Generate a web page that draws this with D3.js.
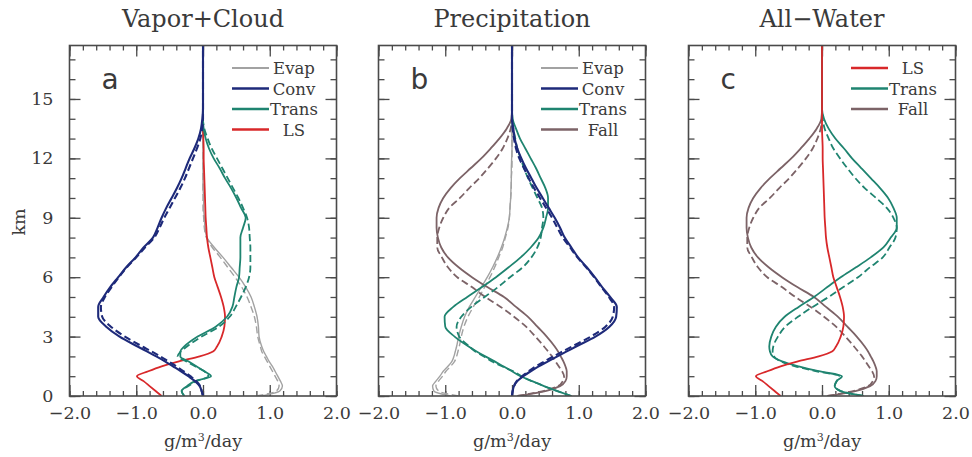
<!DOCTYPE html>
<html>
<head>
<meta charset="utf-8">
<script src="https://cdn.jsdelivr.net/npm/d3@7"></script>
<style>
  body { margin: 0; background: #fff; }
  text { fill: #3a3a3a; }
</style>
</head>
<body>
<svg id="chart" width="972" height="457"></svg>
<script>
// Height levels (km) shared by every profile
const heights = [0, 0.25, 0.5, 0.75, 1, 1.25, 1.5, 1.75, 2, 2.25, 2.5, 3, 3.5, 4, 4.5, 5, 5.5, 6, 6.5, 7, 7.5, 8, 8.5, 9, 9.5, 10, 10.5, 11, 11.5, 12, 12.5, 13, 13.5, 14, 14.5, 17.7];

// Panel titles, letters and tick labels
const panelTitles = ["Vapor+Cloud", "Precipitation", "All\u2212Water"];
const panelLetters = ["a", "b", "c"];
const xMajorTicks = [-2, -1, 0, 1, 2];
const yMajorTicks = [0, 3, 6, 9, 12, 15];

// Vapor+Cloud budget terms (g/m3/day); "D" = second (dashed) experiment
const vcEvap  = [0.88, 1.15, 1.19, 1.16, 1.12, 1.08, 1.04, 0.99, 0.95, 0.91, 0.88, 0.84, 0.83, 0.81, 0.77, 0.72, 0.64, 0.54, 0.42, 0.30, 0.17, 0.06, 0.03, 0.02, 0.01, 0.01, 0, 0, 0, 0, 0, 0, 0, 0, 0, 0];
const vcEvapD = [0.80, 1.10, 1.14, 1.12, 1.08, 1.04, 1.00, 0.96, 0.92, 0.88, 0.86, 0.82, 0.80, 0.77, 0.72, 0.66, 0.58, 0.48, 0.37, 0.26, 0.14, 0.05, 0.02, 0.01, 0, 0, 0, 0, 0, 0, 0, 0, 0, 0, 0, 0];
const vcConv  = [0.00, -0.02, -0.05, -0.12, -0.22, -0.33, -0.45, -0.57, -0.70, -0.84, -0.98, -1.25, -1.45, -1.57, -1.57, -1.49, -1.39, -1.27, -1.15, -1.01, -0.89, -0.75, -0.68, -0.62, -0.55, -0.47, -0.39, -0.32, -0.26, -0.20, -0.13, -0.07, -0.03, -0.01, 0, 0];
const vcConvD = [0.00, -0.02, -0.04, -0.10, -0.19, -0.29, -0.40, -0.52, -0.64, -0.77, -0.91, -1.17, -1.38, -1.51, -1.53, -1.47, -1.37, -1.26, -1.14, -1.00, -0.87, -0.73, -0.65, -0.58, -0.50, -0.42, -0.34, -0.27, -0.21, -0.15, -0.09, -0.04, -0.01, 0, 0, 0];
const vcTrans  = [-0.28, -0.32, -0.24, -0.12, 0.12, 0.02, -0.10, -0.22, -0.34, -0.34, -0.28, -0.08, 0.19, 0.36, 0.44, 0.47, 0.50, 0.54, 0.55, 0.56, 0.56, 0.56, 0.60, 0.64, 0.57, 0.50, 0.42, 0.33, 0.25, 0.16, 0.09, 0.04, 0.01, 0, 0, 0];
const vcTransD = [-0.28, -0.32, -0.22, -0.10, 0.08, 0.02, -0.12, -0.25, -0.38, -0.33, -0.24, -0.02, 0.24, 0.40, 0.49, 0.57, 0.64, 0.69, 0.71, 0.71, 0.71, 0.70, 0.69, 0.66, 0.60, 0.53, 0.45, 0.37, 0.29, 0.21, 0.13, 0.07, 0.02, 0, 0, 0];
const lsForcing = [-0.62, -0.71, -0.80, -0.89, -0.99, -0.82, -0.62, -0.36, -0.05, 0.15, 0.21, 0.28, 0.32, 0.33, 0.31, 0.27, 0.22, 0.17, 0.14, 0.11, 0.08, 0.06, 0.05, 0.04, 0.035, 0.03, 0.025, 0.02, 0.015, 0.01, 0.01, 0.005, 0, 0, 0, 0];

// Precipitation budget terms
const prEvap  = [-0.92, -1.17, -1.19, -1.14, -1.08, -1.03, -0.96, -0.90, -0.87, -0.85, -0.83, -0.80, -0.76, -0.71, -0.64, -0.55, -0.46, -0.37, -0.29, -0.22, -0.16, -0.11, -0.07, -0.04, -0.03, -0.02, -0.015, -0.01, -0.01, -0.005, 0, 0, 0, 0, 0, 0];
const prEvapD = [-0.80, -1.10, -1.14, -1.10, -1.04, -0.99, -0.92, -0.86, -0.83, -0.81, -0.79, -0.76, -0.72, -0.66, -0.58, -0.49, -0.41, -0.33, -0.26, -0.20, -0.14, -0.10, -0.06, -0.04, -0.03, -0.02, -0.01, -0.01, 0, 0, 0, 0, 0, 0, 0, 0];
const prConv  = [0.00, 0.01, 0.03, 0.08, 0.17, 0.28, 0.40, 0.54, 0.68, 0.82, 0.96, 1.25, 1.46, 1.56, 1.57, 1.47, 1.35, 1.24, 1.12, 0.99, 0.89, 0.79, 0.72, 0.64, 0.55, 0.46, 0.37, 0.29, 0.21, 0.14, 0.08, 0.04, 0.02, 0, 0, 0];
const prConvD = [0.00, 0.01, 0.03, 0.07, 0.15, 0.25, 0.36, 0.49, 0.62, 0.76, 0.90, 1.18, 1.40, 1.51, 1.53, 1.45, 1.34, 1.23, 1.11, 0.98, 0.87, 0.76, 0.68, 0.60, 0.51, 0.42, 0.33, 0.25, 0.18, 0.11, 0.06, 0.03, 0.01, 0, 0, 0];
const prTrans  = [0.89, 0.68, 0.48, 0.30, 0.13, 0.00, -0.13, -0.26, -0.40, -0.53, -0.65, -0.86, -1.00, -1.01, -0.88, -0.67, -0.45, -0.24, -0.05, 0.13, 0.28, 0.40, 0.47, 0.51, 0.54, 0.54, 0.50, 0.43, 0.36, 0.28, 0.20, 0.12, 0.06, 0.01, 0, 0];
const prTransD = [0.89, 0.68, 0.48, 0.30, 0.14, 0.02, -0.15, -0.30, -0.42, -0.55, -0.64, -0.79, -0.83, -0.76, -0.61, -0.41, -0.21, -0.03, 0.16, 0.29, 0.38, 0.43, 0.45, 0.47, 0.45, 0.38, 0.31, 0.24, 0.18, 0.13, 0.08, 0.05, 0.02, 0, 0, 0];
const fallTerm  = [0.09, 0.50, 0.72, 0.80, 0.82, 0.82, 0.80, 0.77, 0.73, 0.69, 0.64, 0.52, 0.38, 0.24, 0.06, -0.12, -0.37, -0.60, -0.80, -0.96, -1.06, -1.11, -1.13, -1.13, -1.10, -1.03, -0.92, -0.78, -0.62, -0.46, -0.32, -0.19, -0.08, -0.01, 0, 0];
const fallTermD = [0.08, 0.47, 0.69, 0.76, 0.78, 0.75, 0.70, 0.65, 0.60, 0.54, 0.48, 0.35, 0.21, 0.03, -0.17, -0.40, -0.60, -0.82, -0.96, -1.05, -1.12, -1.12, -1.09, -1.03, -0.94, -0.78, -0.64, -0.49, -0.36, -0.24, -0.14, -0.07, -0.02, 0, 0, 0];

// All-water transport
const awTrans  = [0.62, 0.28, 0.19, 0.22, 0.30, -0.05, -0.35, -0.60, -0.74, -0.78, -0.79, -0.76, -0.69, -0.56, -0.35, -0.12, 0.08, 0.28, 0.51, 0.73, 0.92, 1.03, 1.12, 1.12, 1.07, 0.99, 0.87, 0.73, 0.59, 0.45, 0.33, 0.20, 0.10, 0.03, 0, 0];
const awTransD = [0.62, 0.28, 0.19, 0.22, 0.26, -0.08, -0.40, -0.62, -0.72, -0.74, -0.73, -0.66, -0.55, -0.36, -0.14, 0.10, 0.32, 0.54, 0.72, 0.91, 1.01, 1.10, 1.12, 1.07, 0.97, 0.81, 0.64, 0.50, 0.38, 0.27, 0.17, 0.10, 0.04, 0.01, 0, 0];

// Styles for each term
const styles = {
  Evap:  { color: "#a2a2a2", width: 1.4 },
  Conv:  { color: "#1e2a7a", width: 2.1 },
  Trans: { color: "#1f8470", width: 1.8 },
  LS:    { color: "#d8282a", width: 1.8 },
  Fall:  { color: "#7c6367", width: 1.8 }
};

// Curves drawn in each panel (bottom to top), plus legend order
const panels = [
  { series: [
      { name: "Evap",  solid: vcEvap,  dashed: vcEvapD },
      { name: "LS",    solid: lsForcing, dashed: null },
      { name: "Trans", solid: vcTrans, dashed: vcTransD },
      { name: "Conv",  solid: vcConv,  dashed: vcConvD } ],
    legend: ["Evap", "Conv", "Trans", "LS"] },
  { series: [
      { name: "Evap",  solid: prEvap,  dashed: prEvapD },
      { name: "Fall",  solid: fallTerm, dashed: fallTermD },
      { name: "Trans", solid: prTrans, dashed: prTransD },
      { name: "Conv",  solid: prConv,  dashed: prConvD } ],
    legend: ["Evap", "Conv", "Trans", "Fall"] },
  { series: [
      { name: "Fall",  solid: fallTerm, dashed: fallTermD },
      { name: "Trans", solid: awTrans, dashed: awTransD },
      { name: "LS",    solid: lsForcing, dashed: null } ],
    legend: ["LS", "Trans", "Fall"] }
];

const svg = d3.select("#chart");
const plotTop = 45.5, plotBottom = 396, panelW = 267;
const panelLeft = [69.5, 378.5, 688.5];
const frameColor = "#4a4a4a";
const serif = "'DejaVu Serif', serif";

const y = d3.scaleLinear().domain([0, 17.7]).range([plotBottom, plotTop]);
const fmt = d3.format(".1f");

function styleAxis(g) {
  g.select(".domain").remove();
  g.selectAll(".tick line").attr("stroke", frameColor).attr("stroke-width", 1.3);
  g.selectAll(".tick text").attr("font-family", serif).attr("font-size", 17.5).attr("fill", "#3a3a3a");
}

panels.forEach((p, i) => {
  const left = panelLeft[i];
  const x = d3.scaleLinear().domain([-2, 2]).range([left, left + panelW]);
  const g = svg.append("g");

  // tick marks on all four sides, pointing inward
  const minorX = d3.range(-20, 21, 2).map(v => v / 10);
  const minorY = d3.range(0, 18, 1);
  g.append("g").attr("transform", `translate(0,${plotBottom})`)
    .call(d3.axisBottom(x).tickValues(minorX).tickSize(-5).tickFormat("")).call(styleAxis);
  g.append("g").attr("transform", `translate(0,${plotBottom})`)
    .call(d3.axisBottom(x).tickValues(xMajorTicks).tickSize(-11).tickPadding(11).tickFormat(fmt)).call(styleAxis);
  g.append("g").attr("transform", `translate(0,${plotTop})`)
    .call(d3.axisTop(x).tickValues(minorX).tickSize(-5).tickFormat("")).call(styleAxis);
  g.append("g").attr("transform", `translate(0,${plotTop})`)
    .call(d3.axisTop(x).tickValues(xMajorTicks).tickSize(-11).tickFormat("")).call(styleAxis);
  g.append("g").attr("transform", `translate(${left},0)`)
    .call(d3.axisLeft(y).tickValues(minorY).tickSize(-6).tickFormat("")).call(styleAxis);
  g.append("g").attr("transform", `translate(${left},0)`)
    .call(d3.axisLeft(y).tickValues(yMajorTicks).tickSize(-11).tickPadding(16)
      .tickFormat(i === 0 ? d3.format("d") : "")).call(styleAxis);
  g.append("g").attr("transform", `translate(${left + panelW},0)`)
    .call(d3.axisRight(y).tickValues(minorY).tickSize(-6).tickFormat("")).call(styleAxis);
  g.append("g").attr("transform", `translate(${left + panelW},0)`)
    .call(d3.axisRight(y).tickValues(yMajorTicks).tickSize(-11).tickFormat("")).call(styleAxis);

  // profiles
  const line = d3.line()
    .x(d => x(d[1]))
    .y(d => y(d[0]))
    .curve(d3.curveMonotoneY);
  const clipId = `clip${i}`;
  svg.append("clipPath").attr("id", clipId).append("rect")
    .attr("x", left).attr("y", plotTop).attr("width", panelW).attr("height", plotBottom - plotTop);
  const lines = g.append("g").attr("clip-path", `url(#${clipId})`);
  p.series.forEach(s => {
    const st = styles[s.name];
    if (s.dashed) {
      lines.append("path").datum(heights.map((h, k) => [h, s.dashed[k]]))
        .attr("d", line).attr("fill", "none").attr("stroke", st.color)
        .attr("stroke-width", st.width).attr("stroke-dasharray", "7,3.5");
    }
    lines.append("path").datum(heights.map((h, k) => [h, s.solid[k]]))
      .attr("d", line).attr("fill", "none").attr("stroke", st.color)
      .attr("stroke-width", st.width);
  });

  // frame
  g.append("rect").attr("x", left).attr("y", plotTop).attr("width", panelW)
    .attr("height", plotBottom - plotTop).attr("fill", "none")
    .attr("stroke", frameColor).attr("stroke-width", 1.6);

  // legend
  const legCx = x(0) + 91;
  p.legend.forEach((name, k) => {
    const ly = 68 + k * 20.5;
    g.append("line").attr("x1", x(0) + 29).attr("x2", x(0) + 66)
      .attr("y1", ly).attr("y2", ly)
      .attr("stroke", styles[name].color).attr("stroke-width", styles[name].width + 0.5);
    g.append("text").attr("x", legCx).attr("y", ly + 6).attr("text-anchor", "middle")
      .attr("font-family", serif).attr("font-size", 16.5).text(name);
  });

  // panel letter
  g.append("text").attr("x", left + 32).attr("y", 89)
    .attr("font-family", "'DejaVu Sans', sans-serif").attr("font-size", 28)
    .attr("fill", "#444").text(panelLetters[i]);

  // title
  svg.append("text").attr("x", x(0)).attr("y", 27).attr("text-anchor", "middle")
    .attr("font-family", serif).attr("font-size", 24).attr("fill", "#3a3a3a")
    .text(panelTitles[i]);

  // x-axis title
  const xt = svg.append("text").attr("x", x(0)).attr("y", 447).attr("text-anchor", "middle")
    .attr("font-family", serif).attr("font-size", 17.5);
  xt.append("tspan").text("g/m");
  xt.append("tspan").attr("dy", -6).attr("font-size", 11).text("3");
  xt.append("tspan").attr("dy", 6).text("/day");
});

// y-axis title
svg.append("text").attr("transform", "translate(25,222) rotate(-90)")
  .attr("text-anchor", "middle").attr("font-family", serif).attr("font-size", 17.5).text("km");
</script>
</body>
</html>
